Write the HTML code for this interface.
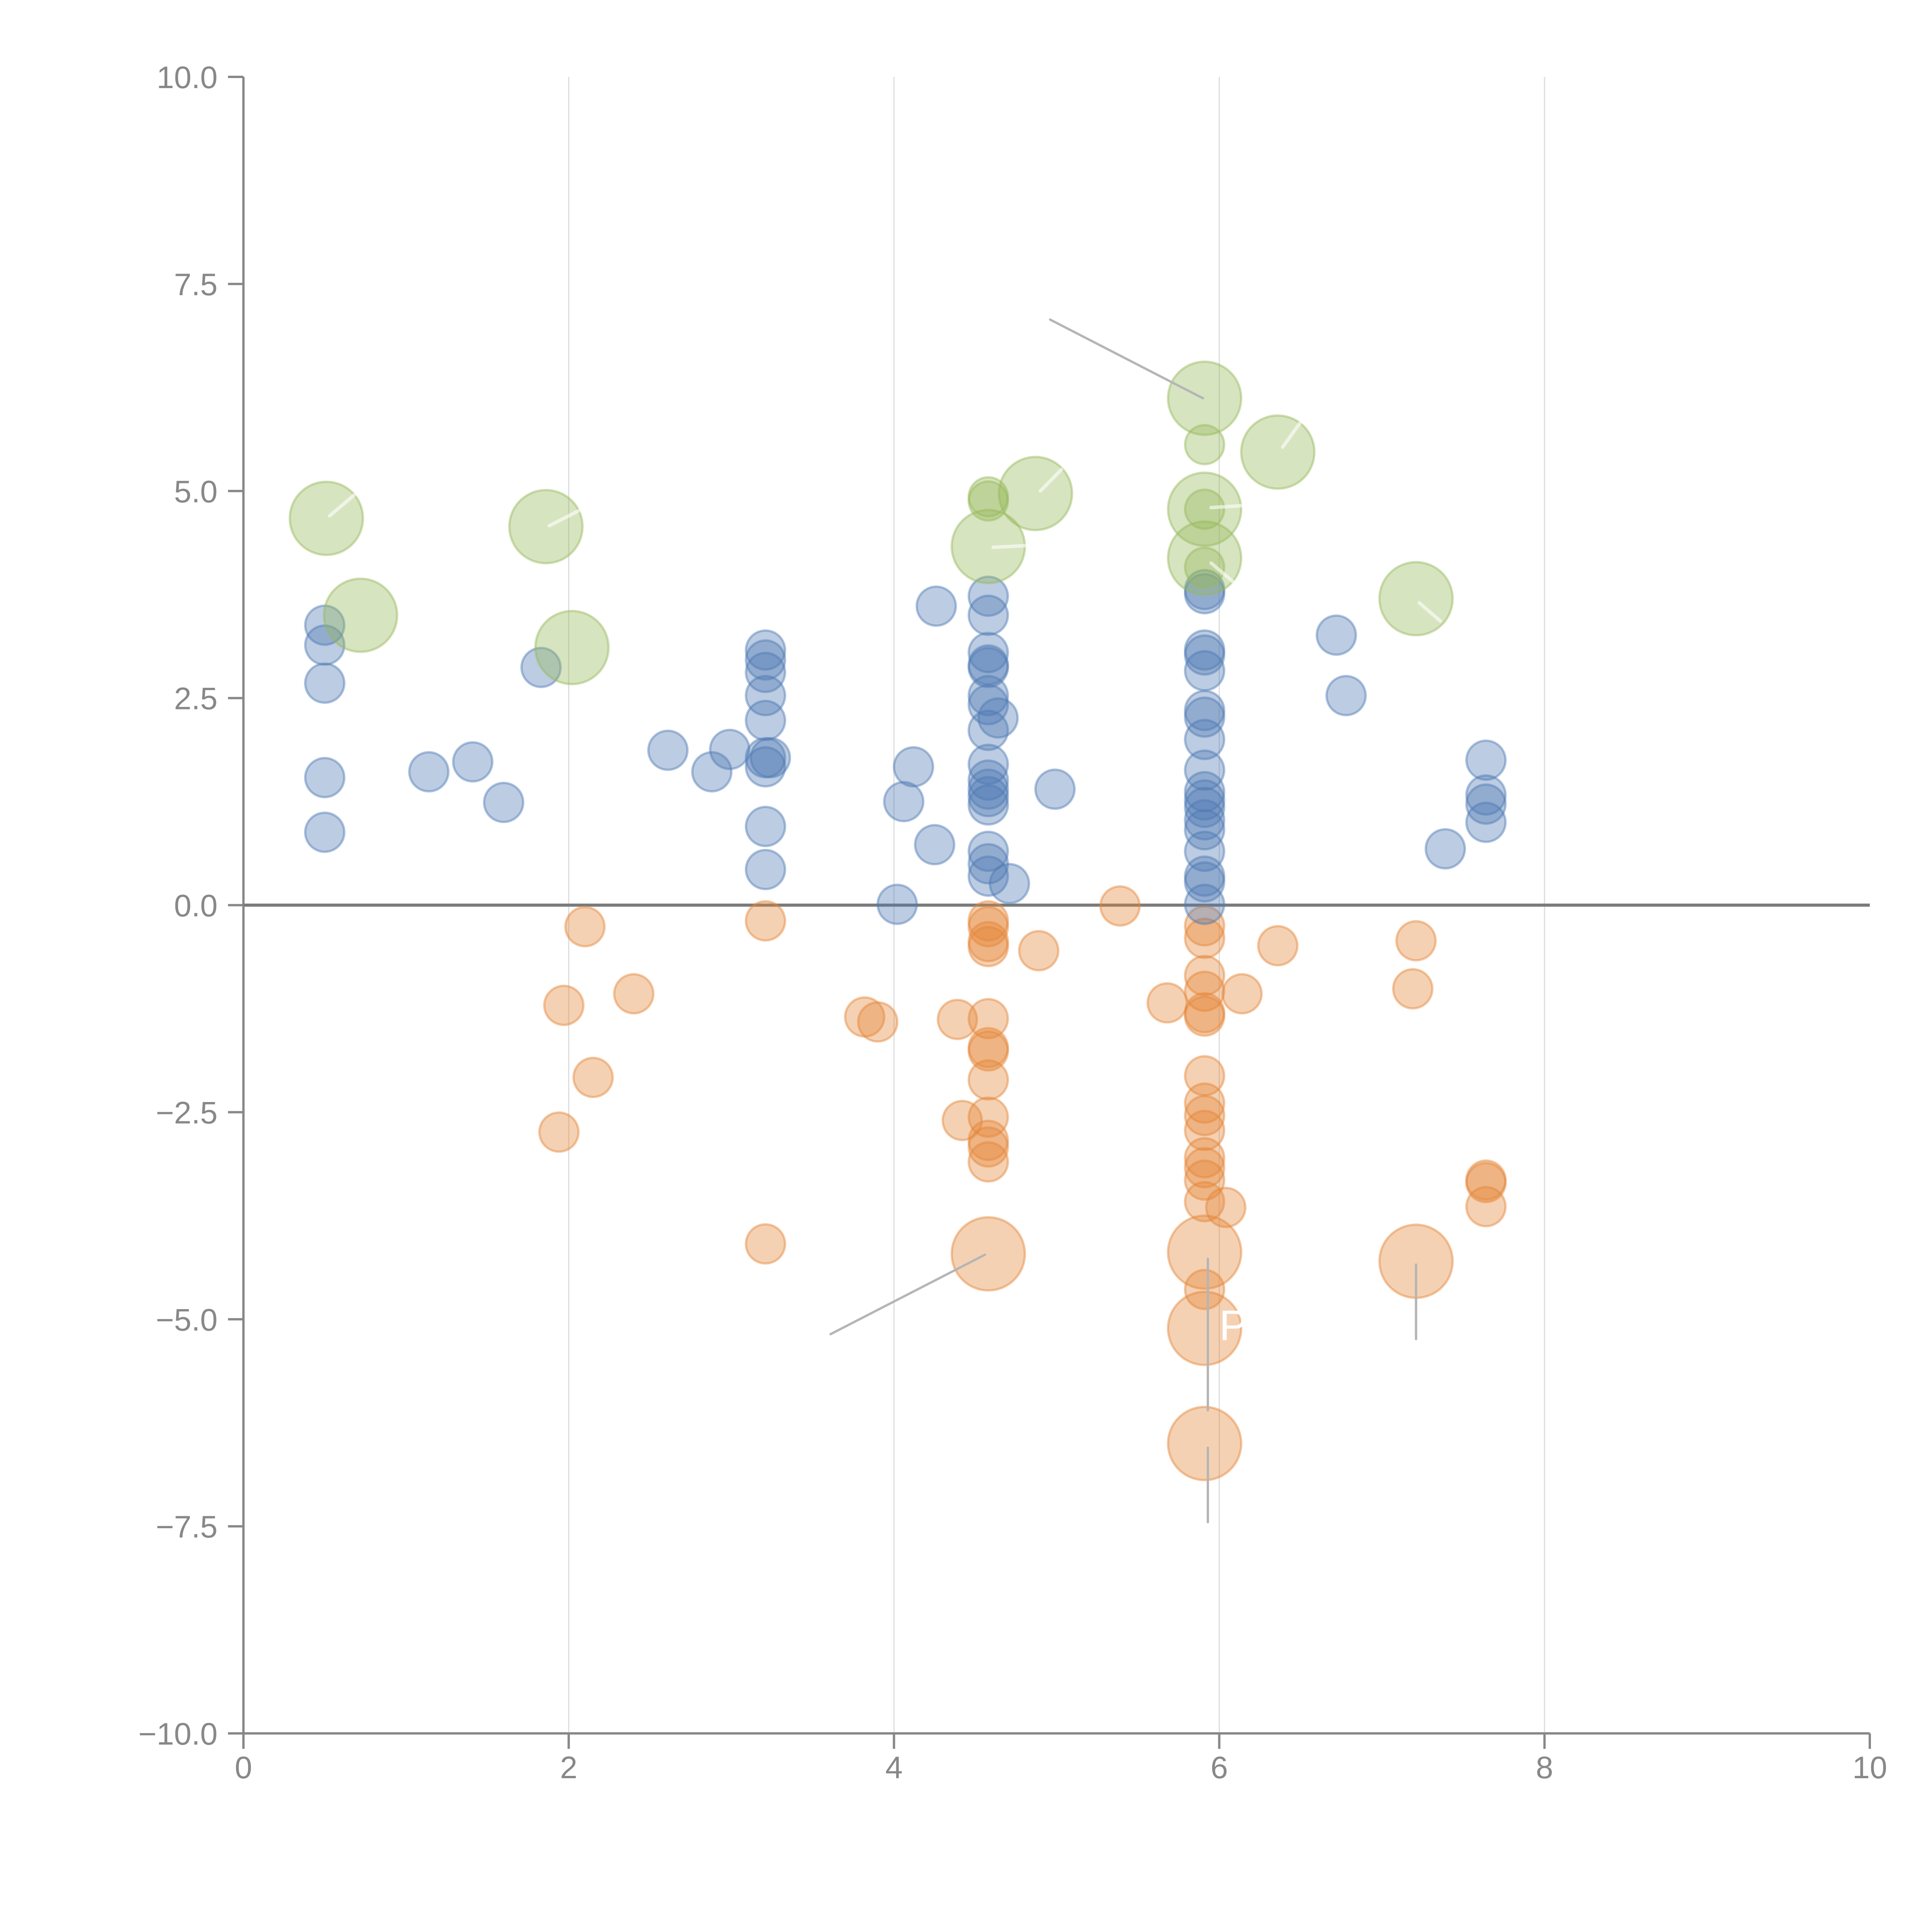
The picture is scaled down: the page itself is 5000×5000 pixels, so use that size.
<!DOCTYPE html>
<html><head><meta charset="utf-8"><style>
html,body{margin:0;padding:0;background:#fff;}
svg{display:block;font-family:"Liberation Sans",Arial,sans-serif;}
</style></head><body>
<svg id="chart" width="5000" height="5000" viewBox="0 0 5000 5000">
<g id="grid"></g>
<g id="axes"></g>
<g id="marks"></g>
<g id="annos"></g>
</svg>
<script>
const xTicks=[0,2,4,6,8,10];
const yTicks=[10,7.5,5,2.5,0,-2.5,-5,-7.5,-10];
const yTickLabels=["10.0","7.5","5.0","2.5","0.0","\u22122.5","\u22125.0","\u22127.5","\u221210.0"];
const blueX=[0.50,0.50,0.50,0.50,0.50,1.14,1.41,1.60,1.83,2.61,2.88,2.99,3.21,3.21,3.21,3.21,3.21,3.21,3.21,3.24,3.21,3.21,4.02,4.06,4.12,4.25,4.26,4.58,4.58,4.58,4.58,4.58,4.58,4.58,4.58,4.58,4.58,4.58,4.58,4.58,4.58,4.58,4.58,4.64,4.71,4.99,5.91,5.91,5.91,5.91,5.91,5.91,5.91,5.91,5.91,5.91,5.91,5.91,5.91,5.91,5.91,5.91,5.91,5.91,6.72,6.78,7.39,7.64,7.64,7.64,7.64];
const blueY=[3.38,3.14,2.68,1.54,0.88,1.61,1.73,1.24,2.87,1.87,1.61,1.88,3.08,2.96,2.81,2.53,2.23,1.78,1.67,1.78,0.95,0.43,0.01,1.25,1.67,0.73,3.61,3.73,3.50,3.05,2.90,2.87,2.53,2.42,2.11,1.70,1.51,1.40,1.31,1.21,0.65,0.50,0.35,2.26,0.26,1.40,3.76,3.81,3.08,3.02,2.83,2.35,2.27,2.00,1.63,1.37,1.27,1.18,1.03,0.91,0.65,0.35,0.28,0.01,3.26,2.53,0.68,1.75,1.33,1.22,1.00];
const orangeX=[3.21,2.10,1.97,2.40,2.15,1.94,3.21,3.82,3.90,4.39,4.42,4.58,4.58,4.58,4.58,4.58,4.58,4.58,4.58,4.58,4.58,4.58,4.58,4.89,5.39,5.68,5.91,5.91,5.91,5.91,5.91,5.91,5.91,5.91,5.91,5.91,5.91,5.91,5.91,5.91,5.91,6.04,6.14,6.36,7.21,7.19,7.64,7.64,7.64,4.58,5.91,5.91,5.91,7.21];
const orangeY=[-0.19,-0.26,-1.21,-1.07,-2.08,-2.74,-4.09,-1.35,-1.41,-1.38,-2.60,-0.19,-0.26,-0.44,-0.50,-1.37,-1.72,-1.76,-2.11,-2.56,-2.84,-2.92,-3.10,-0.55,-0.01,-1.18,-0.25,-0.40,-0.85,-1.04,-1.30,-1.34,-2.06,-2.39,-2.54,-2.72,-3.05,-3.17,-3.32,-3.58,-4.64,-3.65,-1.07,-0.49,-0.43,-1.01,-3.32,-3.35,-3.64,-4.21,-4.19,-5.11,-6.50,-4.30];
const orangeS=[10,10,10,10,10,10,10,10,10,10,10,10,10,10,10,10,10,10,10,10,10,10,10,10,10,10,10,10,10,10,10,10,10,10,10,10,10,10,10,10,10,10,10,10,10,10,10,10,10,35,35,35,35,35];
const greenX=[0.51,0.72,1.86,2.02,4.58,4.87,5.91,5.91,5.91,6.36,7.21,4.58,4.58,5.91,5.91,5.91];
const greenY=[4.67,3.50,4.57,3.11,4.33,4.97,6.12,4.78,4.19,5.47,3.70,4.93,4.88,5.56,4.78,4.08];
const greenS=[35,35,35,35,35,35,35,35,35,35,35,10,10,10,10,10];
const leaderX1=[4.96,3.61,5.93,5.93,7.21];
const leaderY1=[7.07,-5.18,-4.27,-6.55,-4.34];
const leaderX2=[5.90,4.56,5.93,5.93,7.21];
const leaderY2=[6.12,-4.22,-6.10,-7.45,-5.24];
const innerX1=[0.53,1.88,4.61,4.90,5.95,5.95,6.39,7.23];
const innerY1=[4.70,4.58,4.32,5.00,4.80,4.13,5.53,3.65];
const innerX2=[0.68,2.06,4.90,5.03,6.20,6.10,6.50,7.36];
const innerY2=[4.95,4.76,4.35,5.26,4.83,3.88,5.83,3.43];

const NS="http://www.w3.org/2000/svg";
const X0=630,X1=4839,Y0=4486,Y1=199;
const sx=v=>X0+(v-0)/(10-0)*(X1-X0);
const sy=v=>Y0-(v+10)/20*(Y0-Y1);
const sr=s=>16*Math.sqrt(s);
function mk(tag,parent,attrs){const e=document.createElementNS(NS,tag);for(const k in attrs)e.setAttribute(k,attrs[k]);parent.appendChild(e);return e;}
const grid=document.getElementById('grid'),axes=document.getElementById('axes'),marks=document.getElementById('marks'),annos=document.getElementById('annos');

xTicks.forEach(t=>{
  if(t>0&&t<10){const l=mk('line',grid,{x1:sx(t),x2:sx(t),y1:Y1,y2:Y0,stroke:'#dcdcdc','stroke-width':3});
  
  }
  const tk=mk('line',axes,{x1:sx(t),x2:sx(t),y1:Y0,y2:Y0+40,stroke:'#888','stroke-width':6});
  
  
  const tx=mk('text',axes,{x:sx(t),y:4602,'text-anchor':'middle','font-size':81,fill:'#888'});
  tx.textContent=String(t);
  
  
});
yTicks.forEach((t,i)=>{
  const tk=mk('line',axes,{x1:X0-40,x2:X0,y1:sy(t),y2:sy(t),stroke:'#888','stroke-width':6});
  
  
  const tx=mk('text',axes,{x:563,y:sy(t)+29,'text-anchor':'end','font-size':81,fill:'#888'});
  tx.textContent=yTickLabels[i];
  
  
});
const ya=mk('line',axes,{x1:X0,x2:X0,y1:Y1,y2:Y0,stroke:'#888','stroke-width':6});


const xa=mk('line',axes,{x1:X0,x2:X1,y1:Y0,y2:Y0,stroke:'#888','stroke-width':6});


const zl=mk('line',axes,{x1:X0,x2:X1,y1:sy(0),y2:sy(0),stroke:'#7a7a7a','stroke-width':8});



function series(xs,ys,ss,fill,stroke,name){
  xs.forEach((x,i)=>{
    const c=mk('circle',marks,{cx:sx(x),cy:sy(ys[i]),r:sr(ss?ss[i]:10),fill:fill,stroke:stroke,'stroke-width':6});
    
    
  });
}
series(orangeX,orangeY,orangeS,'rgba(228,133,55,0.38)','rgba(228,133,55,0.45)','orange-bubble');
series(blueX,blueY,null,'rgba(78,121,180,0.38)','rgba(78,121,180,0.45)','blue-bubble');
series(greenX,greenY,greenS,'rgba(150,185,90,0.38)','rgba(150,185,90,0.45)','green-bubble');

leaderX1.forEach((x,i)=>{
  const l=mk('line',annos,{x1:sx(x),y1:sy(leaderY1[i]),x2:sx(leaderX2[i]),y2:sy(leaderY2[i]),stroke:'#b5b5b5','stroke-width':6,'stroke-linecap':'round'});
  
  
});
innerX1.forEach((x,i)=>{
  const l=mk('line',annos,{x1:sx(x),y1:sy(innerY1[i]),x2:sx(innerX2[i]),y2:sy(innerY2[i]),stroke:'rgba(255,255,255,0.6)','stroke-width':9,'stroke-linecap':'round'});
  
  
});
const p=mk('text',annos,{x:sx(6.0),y:sy(-5.25),'font-size':110,fill:'#fff'});
p.textContent='P';


</script>
</body></html>
